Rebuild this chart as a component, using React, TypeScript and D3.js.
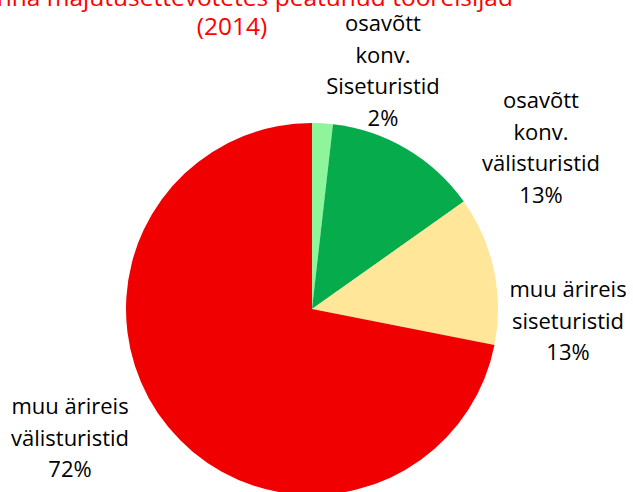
import React, { useEffect, useRef } from 'react';
import * as d3 from 'd3';

// slices, clockwise from 12 o'clock
const categories = [
  ['osavõtt', 'konv.', 'Siseturistid'],
  ['osavõtt', 'konv.', 'välisturistid'],
  ['muu ärireis', 'siseturistid'],
  ['muu ärireis', 'välisturistid'],
];
const shares = [0.018, 0.134, 0.129, 0.719];
const colors = ['#8ef59a', '#06ab4c', '#ffe699', '#f00000'];
const titleLines = ['Tallinna majutusettevõtetes peatunud tööreisijad', '(2014)'];

const W = 633, H = 492;

const App = () => {
  const ref = useRef<SVGSVGElement>(null);

  useEffect(() => {
    const svg = d3.select(ref.current);
    svg.selectAll('*').remove();

    const cx = 312, cy = 309, r = 186;
    const font = '"Open Sans", "DejaVu Sans", sans-serif';

    const pie = d3.pie<number>().sort(null).value(d => d);
    const arc = d3.arc<d3.PieArcDatum<number>>().innerRadius(0).outerRadius(r);
    const arcs = pie(shares);

    const g = svg.append('g').attr('transform', `translate(${cx},${cy})`);
    g.selectAll('path')
      .data(arcs)
      .enter()
      .append('path')
      .attr('d', arc)
      .attr('fill', (d, i) => colors[i]);

    // labels outside the pie, anchored at the label centre / first baseline
    const labelPos = [
      { x: 383, y: 31 },
      { x: 541, y: 108 },
      { x: 568, y: 297 },
      { x: 70, y: 414 },
    ];
    const fmt = d3.format('.0%');
    const lineH = 31.5;

    labelPos.forEach((p, i) => {
      const lines = [...categories[i], fmt(shares[i])];
      const t = svg.append('text')
        .attr('text-anchor', 'middle')
        .attr('font-family', font)
        .attr('font-size', 22)
        .attr('fill', '#000');
      lines.forEach((l, j) => {
        t.append('tspan').attr('x', p.x).attr('y', p.y + j * lineH).text(l);
      });
    });

    const title = svg.append('text')
      .attr('text-anchor', 'middle')
      .attr('font-family', font)
      .attr('font-size', 24.5)
      .attr('fill', '#ff0000');
    titleLines.forEach((l, j) => {
      title.append('tspan').attr('x', 232).attr('y', 6 + j * 29).text(l);
    });
  }, []);

  return (
    <svg ref={ref} width={W} height={H}
      style={{ position: 'absolute', left: 0, top: 0, background: '#fff' }} />
  );
};

export default App;
